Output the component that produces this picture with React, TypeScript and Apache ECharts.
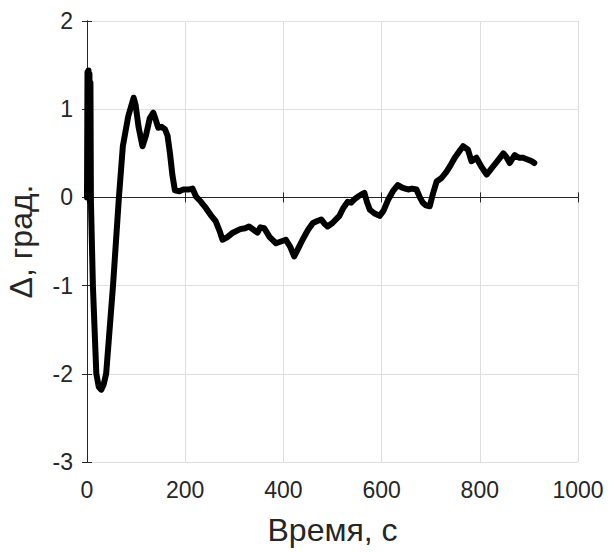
import React, { useEffect, useRef } from "react";
import * as echarts from "echarts";

const timeS: number[] = [
  0, 1, 2, 3, 4, 5, 6, 7, 8, 12, 19, 24, 29, 34, 39, 53, 65, 73, 84, 95, 99, 105, 113, 120, 128, 135, 140, 145, 152,
  159, 164, 169, 174, 179, 188, 196, 208, 215, 222, 232, 242, 252, 262, 270, 276, 286, 297, 312, 322, 330, 340, 347,
  353, 361, 372, 385, 395, 405, 414, 422, 430, 439, 450, 460, 468, 477, 484, 490, 500, 507, 514, 522, 531, 538, 545,
  552, 558, 565, 570, 576, 585, 596, 604, 613, 623, 633, 642, 648, 654, 662, 671, 678, 684, 690, 698, 705, 712, 722,
  732, 740, 749, 758, 766, 776, 783, 793, 803, 814, 820, 827, 837, 848, 855, 861, 871, 880, 888, 897, 906, 911,
];
const deltaDeg: number[] = [
  0, 1.42, 0.1, 1.44, 0.0, 1.4, -0.05, 1.3, -0.05, -1.0, -2.0, -2.15, -2.18, -2.12, -2.0, -1.0, 0.0, 0.58, 0.92, 1.13,
  1.05, 0.8, 0.58, 0.7, 0.9, 0.96, 0.88, 0.79, 0.8, 0.77, 0.7, 0.5, 0.25, 0.08, 0.07, 0.09, 0.09, 0.1, 0.01, -0.05,
  -0.12, -0.2, -0.27, -0.38, -0.48, -0.45, -0.4, -0.36, -0.35, -0.33, -0.37, -0.4, -0.34, -0.35, -0.45, -0.52, -0.5,
  -0.48, -0.56, -0.67, -0.58, -0.48, -0.37, -0.29, -0.27, -0.25, -0.3, -0.33, -0.29, -0.25, -0.21, -0.12, -0.05, -0.06,
  -0.02, 0.01, 0.03, 0.05, -0.05, -0.14, -0.18, -0.21, -0.15, -0.03, 0.07, 0.14, 0.11, 0.1, 0.09, 0.1, 0.09, 0.0,
  -0.06, -0.09, -0.1, 0.05, 0.18, 0.22, 0.29, 0.36, 0.45, 0.52, 0.58, 0.54, 0.41, 0.45, 0.35, 0.26, 0.3, 0.35, 0.42,
  0.5, 0.45, 0.39, 0.48, 0.45, 0.45, 0.43, 0.41, 0.39,
];

const xTitle = "Время, с";
const yTitle = "Δ, град.";

const FONT = "'Liberation Sans', Arial, Helvetica, sans-serif";
const AX = "#262626";
const GRID = "#dedede";

export default function App() {
  const ref = useRef<HTMLDivElement>(null);
  useEffect(() => {
    if (!ref.current) return;
    const chart = echarts.init(ref.current, null, { renderer: "svg" });
    const data = timeS.map((t, i) => [t, deltaDeg[i]]);
    const tickLabel = { color: AX, fontSize: 23, fontFamily: FONT, formatter: (v: number) => String(v) };
    chart.setOption({
      animation: false,
      backgroundColor: "#ffffff",
      grid: { left: 87, right: 32, top: 21, bottom: 90, containLabel: false, outerBoundsMode: "none" },
      xAxis: [
        {
          type: "value",
          min: 0,
          max: 1000,
          interval: 200,
          name: xTitle,
          nameLocation: "middle",
          nameGap: 52,
          nameTextStyle: { color: AX, fontSize: 32, fontFamily: FONT },
          axisLine: { show: true, lineStyle: { color: AX, width: 1 } },
          axisTick: { show: true, inside: true, length: 5, lineStyle: { color: AX } },
          axisLabel: { ...tickLabel, margin: 16 },
          splitLine: { show: true, lineStyle: { color: GRID, width: 1 } },
        },
        {
          type: "value",
          position: "top",
          min: 0,
          max: 1000,
          interval: 200,
          axisLine: { show: true, lineStyle: { color: AX, width: 1 } },
          axisTick: { show: true, inside: true, length: 5, lineStyle: { color: AX } },
          axisLabel: { show: false },
          splitLine: { show: false },
        },
      ],
      yAxis: [
        {
          type: "value",
          min: -3,
          max: 2,
          interval: 1,
          name: yTitle,
          nameLocation: "middle",
          nameGap: 50,
          nameRotate: 90,
          nameTextStyle: { color: AX, fontSize: 32, fontFamily: FONT },
          axisLine: { show: true, lineStyle: { color: AX, width: 1 } },
          axisTick: { show: true, inside: true, length: 5, lineStyle: { color: AX } },
          axisLabel: { ...tickLabel, margin: 14 },
          splitLine: { show: true, lineStyle: { color: GRID, width: 1 } },
        },
        {
          type: "value",
          position: "right",
          min: -3,
          max: 2,
          interval: 1,
          axisLine: { show: true, lineStyle: { color: AX, width: 1 } },
          axisTick: { show: true, inside: true, length: 5, lineStyle: { color: AX } },
          axisLabel: { show: false },
          splitLine: { show: false },
        },
      ],
      series: [
        {
          type: "line",
          xAxisIndex: 0,
          yAxisIndex: 0,
          data,
          showSymbol: false,
          symbol: "none",
          lineStyle: { color: "#000000", width: 6, join: "round", cap: "round" },
        },
      ],
    });
    return () => chart.dispose();
  }, []);
  return (
    <div
      ref={ref}
      style={{ position: "absolute", left: 0, top: 0, width: 610, height: 552, background: "#fff" }}
    />
  );
}
